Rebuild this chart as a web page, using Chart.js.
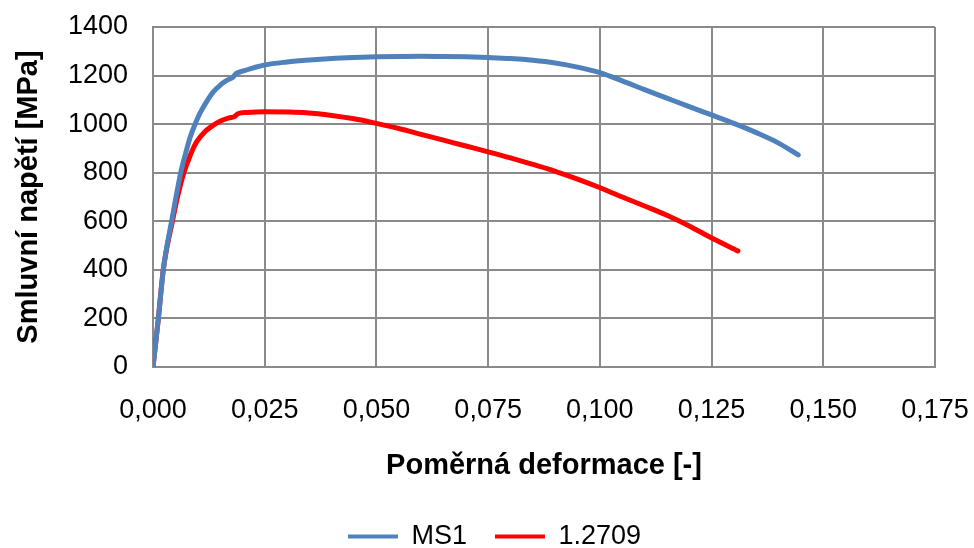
<!DOCTYPE html>
<html>
<head>
<meta charset="utf-8">
<script src="https://cdn.jsdelivr.net/npm/chart.js@4"></script>
<style>
  html, body { margin: 0; padding: 0; background: #fff; }
  #wrap { width: 974px; height: 548px; }
</style>
</head>
<body>
<div id="wrap"><canvas id="chart" width="974" height="548"></canvas></div>
<script>
// values
const strainMS1 = [0, 0.0012, 0.0023, 0.0042, 0.0052, 0.0062, 0.0073, 0.0083, 0.0096, 0.0106, 0.0120, 0.0135, 0.0150, 0.0165,
  0.0178, 0.0186, 0.0200, 0.0225, 0.025,
  0.030, 0.035, 0.040, 0.045, 0.050, 0.055, 0.060, 0.065, 0.070, 0.075, 0.080, 0.085, 0.090, 0.095, 0.100,
  0.105, 0.110, 0.115, 0.120, 0.125, 0.130, 0.135, 0.140, 0.1444];
const stressMS1 = [0, 200, 400, 605, 705, 800, 880, 945, 1008, 1048, 1093, 1133, 1160, 1180,
  1192, 1208, 1218, 1232, 1244,
  1256, 1264, 1270, 1274, 1277, 1279, 1280, 1279, 1277, 1274, 1270, 1263, 1252, 1235, 1212,
  1178, 1142, 1107, 1072, 1038, 1003, 965, 922, 873];

const strain12709 = [0, 0.0012, 0.0023, 0.0044, 0.0056, 0.0069, 0.0083, 0.0097, 0.0115, 0.0132, 0.0150, 0.0170,
  0.0182, 0.0190, 0.0210, 0.025,
  0.030, 0.0343, 0.040, 0.045, 0.050, 0.055, 0.060, 0.065, 0.070, 0.075, 0.080, 0.085, 0.090, 0.095, 0.0998,
  0.105, 0.110, 0.115, 0.120, 0.1247, 0.1309];
const stress12709 = [0, 200, 400, 605, 710, 800, 870, 925, 967, 992, 1012, 1026,
  1031, 1043, 1048, 1051,
  1050, 1047, 1036, 1022, 1003, 982, 958, 934, 910, 886, 861, 834, 806, 774, 740,
  700, 663, 625, 581, 534, 478];

const seriesNames = ['MS1', '1.2709'];
const seriesColors = ['#4F81BD', '#FF0000'];

const xMin = 0, xMax = 0.175, xStep = 0.025;
const yMin = 0, yMax = 1400, yStep = 200;

const toPoints = (xs, ys) => xs.map((x, i) => ({ x, y: ys[i] }));

const FONT = "'Liberation Sans', Arial, sans-serif";
const gridColor = '#8a8a8a';

const lineSeries = (i, xs, ys) => ({
  label: seriesNames[i],
  data: toPoints(xs, ys),
  borderColor: seriesColors[i],
  backgroundColor: seriesColors[i],
  showLine: true,
  borderWidth: 5,
  pointRadius: 0,
  cubicInterpolationMode: 'monotone',
  borderCapStyle: 'round'
});

// legend sits a bit right of centre in the original
const legendShift = {
  id: 'legendShift',
  afterLayout(chart) {
    chart.legend.left += 27;
    chart.legend.right += 27;
  }
};

new Chart(document.getElementById('chart'), {
  type: 'scatter',
  data: {
    datasets: [
      lineSeries(0, strainMS1, stressMS1),
      lineSeries(1, strain12709, stress12709)
    ]
  },
  plugins: [legendShift],
  options: {
    responsive: false,
    animation: false,
    layout: { padding: { top: 27, right: 39, left: 0, bottom: -12 } },
    plugins: {
      tooltip: { enabled: false },
      legend: {
        position: 'bottom',
        labels: {
          color: '#000',
          font: { family: FONT, size: 27 },
          boxWidth: 50,
          boxHeight: 4,
          padding: 28,
          generateLabels(chart) {
            return chart.data.datasets.map((ds, i) => ({
              text: ds.label,
              fillStyle: ds.borderColor,
              strokeStyle: ds.borderColor,
              lineWidth: 0,
              datasetIndex: i
            }));
          }
        }
      }
    },
    scales: {
      x: {
        type: 'linear',
        min: xMin,
        max: xMax,
        afterFit(s) { s.height = 128; s.paddingLeft = 0; s.paddingRight = 0; },
        ticks: {
          stepSize: xStep,
          color: '#000',
          font: { family: FONT, size: 27 },
          padding: 27,
          callback: v => v.toFixed(3).replace('.', ',')
        },
        grid: { color: gridColor, lineWidth: 2, drawTicks: false },
        border: { color: gridColor, width: 2 },
        title: {
          display: true,
          text: 'Poměrná deformace [-]',
          color: '#000',
          font: { family: FONT, size: 29, weight: 'bold' },
          padding: { top: 0, bottom: 12 }
        }
      },
      y: {
        min: yMin,
        max: yMax,
        afterFit(s) { s.width = 153; s.paddingTop = 0; s.paddingBottom = 0; },
        ticks: {
          stepSize: yStep,
          color: '#000',
          font: { family: FONT, size: 27 },
          padding: 25,
          callback: v => String(v)
        },
        grid: { color: gridColor, lineWidth: 2, drawTicks: false },
        border: { color: gridColor, width: 2 },
        title: {
          display: true,
          text: 'Smluvní napětí [MPa]',
          color: '#000',
          font: { family: FONT, size: 29, weight: 'bold' },
          padding: { top: 12, bottom: 0 }
        }
      }
    }
  }
});
</script>
</body>
</html>
